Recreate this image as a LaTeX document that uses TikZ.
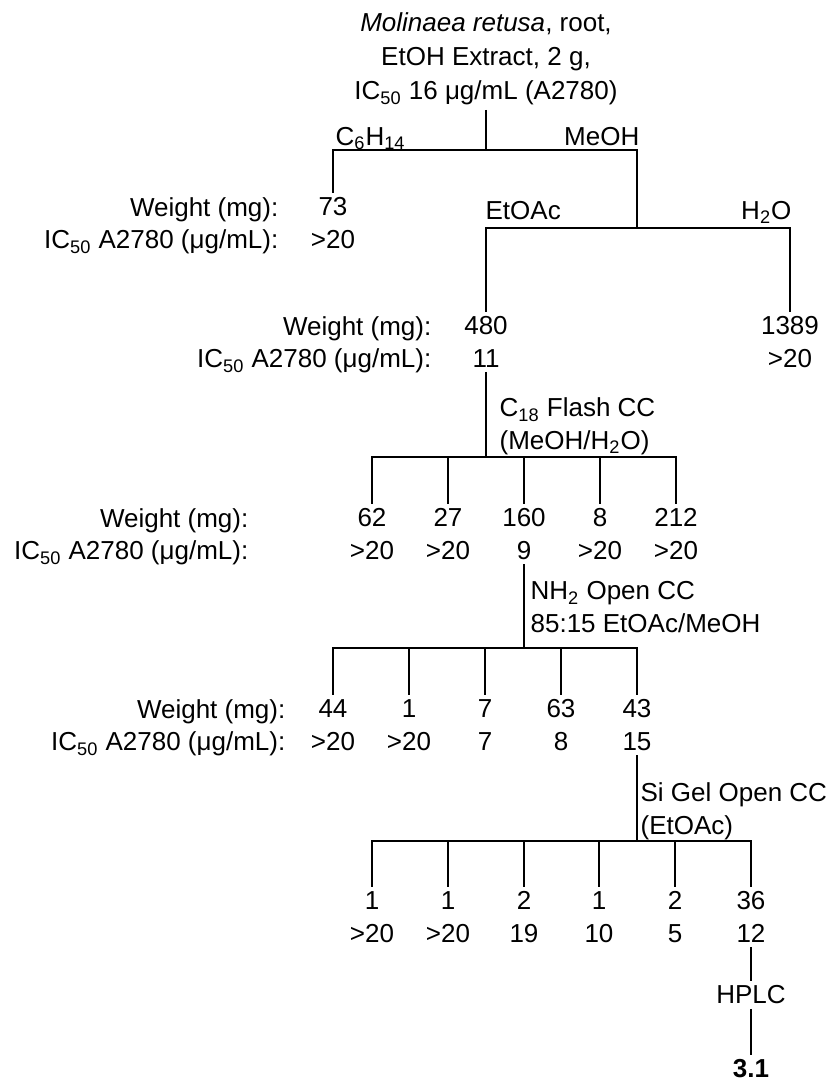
\documentclass[tikz,border=0pt]{standalone}
\usepackage{fontspec}
\setmainfont{Liberation Sans}
\newcommand{\fraclab}{Weight (mg):\\IC\textsubscript{50} A2780 (μg/mL):}
\begin{document}
\begin{tikzpicture}[x=.5pt,y=-.5pt,line width=.65pt,
    font=\fontsize{13}{16.25}\selectfont,
    val/.style={align=center,inner sep=2pt},
    hdr/.style={align=right,anchor=east,inner sep=0pt},
    cond/.style={align=left,anchor=west,inner sep=0pt},
    solv/.style={inner sep=0pt}]
  \useasboundingbox (0,0) rectangle (833,1084);
  \node[align=center,inner sep=2pt,font=\fontsize{13}{17}\selectfont] (src) at (486,59)
    {\textit{Molinaea retusa}, root,\\EtOH Extract, 2 g,\\IC\textsubscript{50} 16 μg/mL (A2780)};
  % solvent partition
  \coordinate (p1) at (486,150);
  \coordinate (p2) at (637,228);
  \draw (src) -- (p1);
  \node[val] (hex) at (333,223) {73\\>20};
  \draw (p1) -| (hex);
  \draw (p1) -| (p2);
  \node[solv,anchor=base west] (hexlab) at (335,145) {C\textsubscript{6}H\textsubscript{14}};
  \node[solv,anchor=base east] (meohlab) at (640,145) {MeOH};
  \node[hdr] (h1) at (279,226) {\fraclab};
  \node[val] (etoac) at (486,342) {480\\11};
  \node[val] (water) at (790,342) {1389\\>20};
  \draw (p2) -| (etoac);
  \draw (p2) -| (water);
  \node[solv,anchor=base west] (etoaclab) at (485,219) {EtOAc};
  \node[solv,anchor=base east] (waterlab) at (792,219) {H\textsubscript{2}O};
  \node[hdr] (h2) at (432,345) {\fraclab};
  % C18 flash
  \coordinate (p3) at (486,457);
  \draw (etoac) -- (p3);
  \node[cond] (m3) at (499,426.5) {C\textsubscript{18} Flash CC\\(MeOH/H\textsubscript{2}O)};
  \foreach \x/\w/\ic [count=\i] in {372/62/>20,448/27/>20,524/160/9,600/8/>20,676/212/>20}{
    \node[val] (c\i) at (\x,534) {\w\\\ic};
    \draw (p3) -| (c\i);
  }
  \node[hdr] (h3) at (249,537) {\fraclab};
  % NH2 open column
  \coordinate (p4) at (524,648);
  \draw (c3) -- (p4);
  \node[cond] (m4) at (530,607) {NH\textsubscript{2} Open CC\\85:15 EtOAc/MeOH};
  \foreach \x/\w/\ic [count=\i] in {333/44/>20,409/1/>20,485/7/7,561/63/8,637/43/15}{
    \node[val] (d\i) at (\x,725) {\w\\\ic};
    \draw (p4) -| (d\i);
  }
  \node[hdr] (h4) at (286,728) {\fraclab};
  % silica gel
  \coordinate (p5) at (637,841);
  \draw (d5) -- (p5);
  \node[cond] (m5) at (640,811.5) {Si Gel Open CC\\(EtOAc)};
  \foreach \x/\w/\ic [count=\i] in {372/1/>20,448/1/>20,524/2/19,599/1/10,675/2/5,751/36/12}{
    \node[val] (e\i) at (\x,917) {\w\\\ic};
    \draw (p5) -| (e\i);
  }
  \node[val] (hplc) at (751,995) {HPLC};
  \node[val] (cmpd) at (751,1069) {\textbf{3.1}};
  \draw (e6) -- (hplc) -- (cmpd);
\end{tikzpicture}
\end{document}
